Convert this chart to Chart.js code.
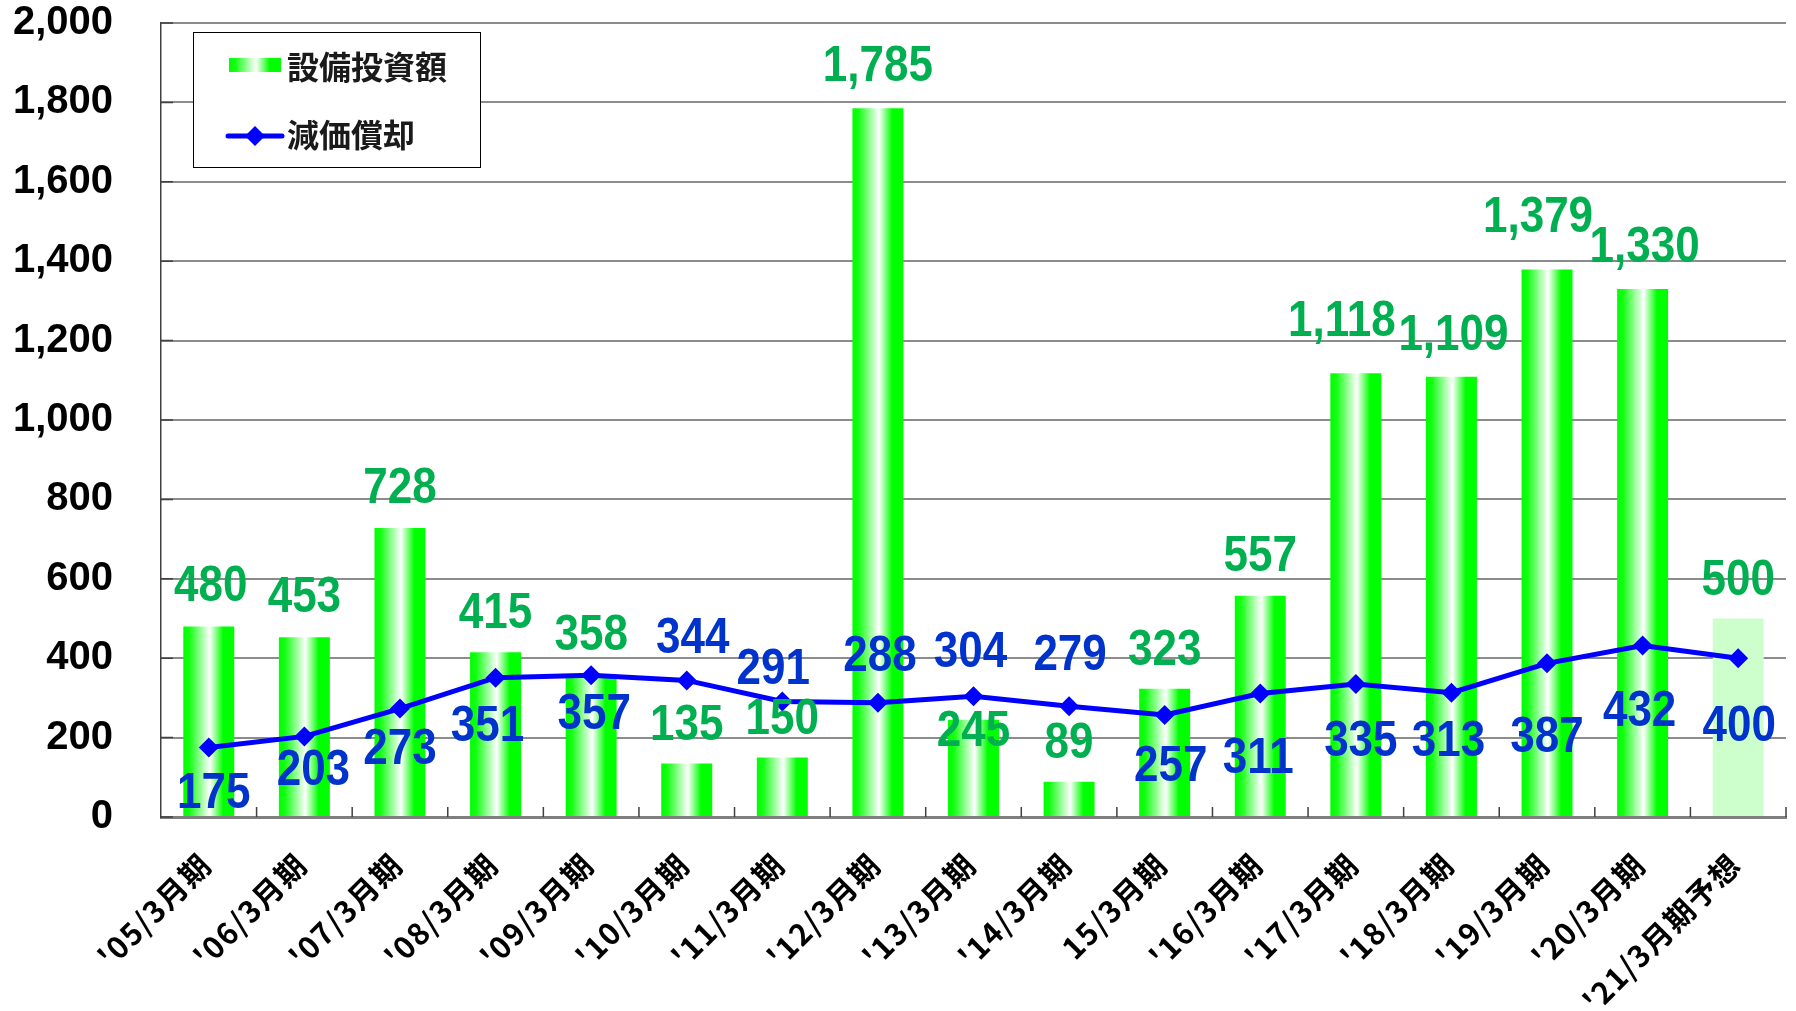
<!DOCTYPE html>
<html>
<head>
<meta charset="utf-8">
<script src="https://cdn.jsdelivr.net/npm/chart.js@4.4.1/dist/chart.umd.min.js"></script>
<style>
	html, body { margin: 0; padding: 0; background: #ffffff; }
	#wrap { width: 1796px; height: 1011px; }
</style>
</head>
<body>
<div id="wrap"><canvas id="myChart" width="1796" height="1011"></canvas></div>
<script>
// categories (fiscal periods, March year-end)
const categories = ["'05/3月期", "'06/3月期", "'07/3月期", "'08/3月期", "'09/3月期", "'10/3月期",
	"'11/3月期", "'12/3月期", "'13/3月期", "'14/3月期", "15/3月期", "'16/3月期", "'17/3月期",
	"'18/3月期", "'19/3月期", "'20/3月期", "'21/3月期予想"];

// 設備投資額
const capex = [480, 453, 728, 415, 358, 135, 150, 1785, 245, 89, 323, 557, 1118, 1109, 1379, 1330, 500];

// 減価償却
const depreciation = [175, 203, 273, 351, 357, 344, 291, 288, 304, 279, 257, 311, 335, 313, 387, 432, 400];

const yTicks = [0, 200, 400, 600, 800, 1000, 1200, 1400, 1600, 1800, 2000];

const capexName = '設備投資額';
const depName = '減価償却';

// hand placed label nudges (pixels), like the original sheet
const capexLabelDx = [2, 0, 0, 0, 0, 0, 0, 0, 0, 0, 0, 0, -14, 2, -9, 2, 0];
const capexLabelDy = [-43, -43, -43, -42, -43, -41, -41, -45, 8, -42, -42, -43, -55, -45, -56, -45, -42];
const depLabelDx = [5, 9, 0, -8, 3, 6, -9, 2, -3, 1, 6, -2, 5, -3, 0, -3, 1];
const depLabelDy = [42, 31, 37, 45, 36, -45, -35, -50, -47, -54, 48, 61, 54, 45, 71, 63, 65];

const GREEN_TXT = '#00b050';
const BLUE_TXT = '#0033cc';
const NUM_FONT = '"Liberation Sans", Arial, sans-serif';
const JP_FONT = '"Noto Sans CJK JP", sans-serif';

function isForecast(i) {
	return categories[i].indexOf('予想') >= 0;
}

function barGradient(ctx, left, width) {
	const g = ctx.createLinearGradient(left, 0, left + width, 0);
	g.addColorStop(0, '#00ff00');
	g.addColorStop(0.12, '#14ff14');
	g.addColorStop(0.52, '#ffffff');
	g.addColorStop(0.78, '#00ff00');
	g.addColorStop(1, '#00ff00');
	return g;
}

function capexColor(context) {
	const chart = context.chart;
	const i = context.dataIndex;
	if (isForecast(i)) return '#ccffcc';
	if (!chart.chartArea || !chart.scales.x) return '#00ff00';
	const xs = chart.scales.x;
	const w = (xs.width / categories.length) * 0.533;
	const cx = xs.getPixelForValue(i);
	return barGradient(chart.ctx, cx - w / 2, w);
}

function fmt(v) {
	return v.toLocaleString('en-US');
}

// slightly condensed text, the sheet font is narrower than Arial
function drawNarrow(ctx, text, x, y, squeeze) {
	ctx.save();
	ctx.translate(x, y);
	ctx.scale(squeeze, 1);
	ctx.fillText(text, 0, 0);
	ctx.restore();
}

// inner tick marks on both axes
const innerTicks = {
	id: 'innerTicks',
	beforeDatasetsDraw(chart) {
		const ctx = chart.ctx;
		const xs = chart.scales.x;
		const ys = chart.scales.y;
		const area = chart.chartArea;
		ctx.save();
		ctx.strokeStyle = '#404040';
		ctx.lineWidth = 1.5;
		ctx.beginPath();
		yTicks.forEach(v => {
			const y = ys.getPixelForValue(v);
			ctx.moveTo(area.left, y);
			ctx.lineTo(area.left + 12, y);
		});
		const step = xs.width / categories.length;
		for (let i = 1; i <= categories.length; i++) {
			const x = xs.left + step * i;
			ctx.moveTo(x, area.bottom);
			ctx.lineTo(x, area.bottom - 10);
		}
		ctx.stroke();
		ctx.restore();
	}
};

// rotated category labels, spaced a little like the sheet font
const categoryLabels = {
	id: 'categoryLabels',
	afterDraw(chart) {
		const ctx = chart.ctx;
		const xs = chart.scales.x;
		const area = chart.chartArea;
		ctx.save();
		ctx.fillStyle = '#000000';
		ctx.font = 'bold 30px ' + JP_FONT;
		ctx.letterSpacing = '1.5px';
		ctx.textAlign = 'right';
		ctx.textBaseline = 'middle';
		xs.ticks.forEach((t, i) => {
			const x = xs.getPixelForTick(i) - 3;
			const y = area.bottom + 42;
			ctx.save();
			ctx.translate(x, y);
			ctx.rotate(-Math.PI / 4);
			ctx.fillText(categories[i], 0, 0);
			ctx.restore();
		});
		ctx.restore();
	}
};

// value labels above bars / around the line points
const valueLabels = {
	id: 'valueLabels',
	afterDatasetsDraw(chart) {
		const ctx = chart.ctx;
		const size = 50;
		ctx.save();
		ctx.font = 'bold ' + size + 'px ' + NUM_FONT;
		ctx.textAlign = 'center';
		ctx.textBaseline = 'alphabetic';
		const bars = chart.getDatasetMeta(0).data;
		bars.forEach((el, i) => {
			ctx.fillStyle = GREEN_TXT;
			drawNarrow(ctx, fmt(capex[i]), el.x + capexLabelDx[i], el.y + capexLabelDy[i] + size * 0.36, 0.88);
		});
		const pts = chart.getDatasetMeta(1).data;
		pts.forEach((el, i) => {
			ctx.fillStyle = BLUE_TXT;
			drawNarrow(ctx, fmt(depreciation[i]), el.x + depLabelDx[i], el.y + depLabelDy[i] + size * 0.36, 0.88);
		});
		ctx.restore();
	}
};

// boxed legend inside the plot, top-left
const boxLegend = {
	id: 'boxLegend',
	afterDraw(chart) {
		const ctx = chart.ctx;
		const area = chart.chartArea;
		const bx = area.left + 32;
		const by = area.top + 9;
		ctx.save();
		ctx.fillStyle = '#ffffff';
		ctx.fillRect(bx, by, 287, 135);
		ctx.strokeStyle = '#000000';
		ctx.lineWidth = 1;
		ctx.strokeRect(bx + 0.5, by + 0.5, 287, 135);

		// bar sample
		ctx.fillStyle = barGradient(ctx, bx + 36, 52);
		ctx.fillRect(bx + 36, by + 26, 52, 14);

		// line sample
		const ly = by + 104;
		ctx.strokeStyle = '#0000ff';
		ctx.lineWidth = 5;
		ctx.lineCap = 'round';
		ctx.beginPath();
		ctx.moveTo(bx + 35, ly);
		ctx.lineTo(bx + 89, ly);
		ctx.stroke();
		ctx.fillStyle = '#0000ff';
		ctx.beginPath();
		ctx.moveTo(bx + 62, ly - 10);
		ctx.lineTo(bx + 72, ly);
		ctx.lineTo(bx + 62, ly + 10);
		ctx.lineTo(bx + 52, ly);
		ctx.closePath();
		ctx.fill();

		ctx.fillStyle = '#1a1a1a';
		ctx.font = 'bold 32px "Noto Sans CJK JP", sans-serif';
		ctx.textAlign = 'left';
		ctx.textBaseline = 'middle';
		ctx.fillText(capexName, bx + 94, by + 35);
		ctx.fillText(depName, bx + 94, ly - 1);
		ctx.restore();
	}
};

const ctx = document.getElementById('myChart').getContext('2d');
const myChart = new Chart(ctx, {
	data: {
		labels: categories,
		datasets: [{
			type: 'bar',
			label: capexName,
			data: capex,
			backgroundColor: capexColor,
			borderWidth: 0,
			barPercentage: 0.533,
			categoryPercentage: 1,
			order: 1
		}, {
			type: 'line',
			label: depName,
			data: depreciation,
			borderColor: '#0000ff',
			backgroundColor: '#0000ff',
			borderWidth: 5,
			pointStyle: 'rectRot',
			pointRadius: 10,
			pointBorderWidth: 0,
			pointBackgroundColor: '#0000ff',
			tension: 0,
			order: 0
		}]
	},
	options: {
		responsive: false,
		animation: false,
		devicePixelRatio: 1,
		layout: {
			padding: { top: 23, right: 10, left: 0, bottom: 0 }
		},
		plugins: {
			legend: { display: false },
			tooltip: { enabled: false }
		},
		scales: {
			x: {
				grid: { display: false, drawTicks: false },
				border: { color: '#7f7f7f', width: 3 },
				ticks: { display: false, autoSkip: false },
				afterFit(scale) {
					scale.height = 194;
					scale.paddingLeft = 0;
					scale.paddingRight = 0;
				}
			},
			y: {
				min: 0,
				max: 2000,
				grid: { color: '#8c8c8c', lineWidth: 2, drawTicks: false },
				border: { color: '#404040', width: 1.5 },
				ticks: {
					stepSize: 200,
					color: '#000000',
					font: { family: NUM_FONT, size: 40, weight: 'bold' },
					padding: 48,
					callback: v => fmt(v)
				},
				afterFit(scale) {
					scale.width = 161;
					scale.paddingTop = 0;
					scale.paddingBottom = 0;
				}
			}
		}
	},
	plugins: [innerTicks, valueLabels, categoryLabels, boxLegend]
});
</script>
</body>
</html>
